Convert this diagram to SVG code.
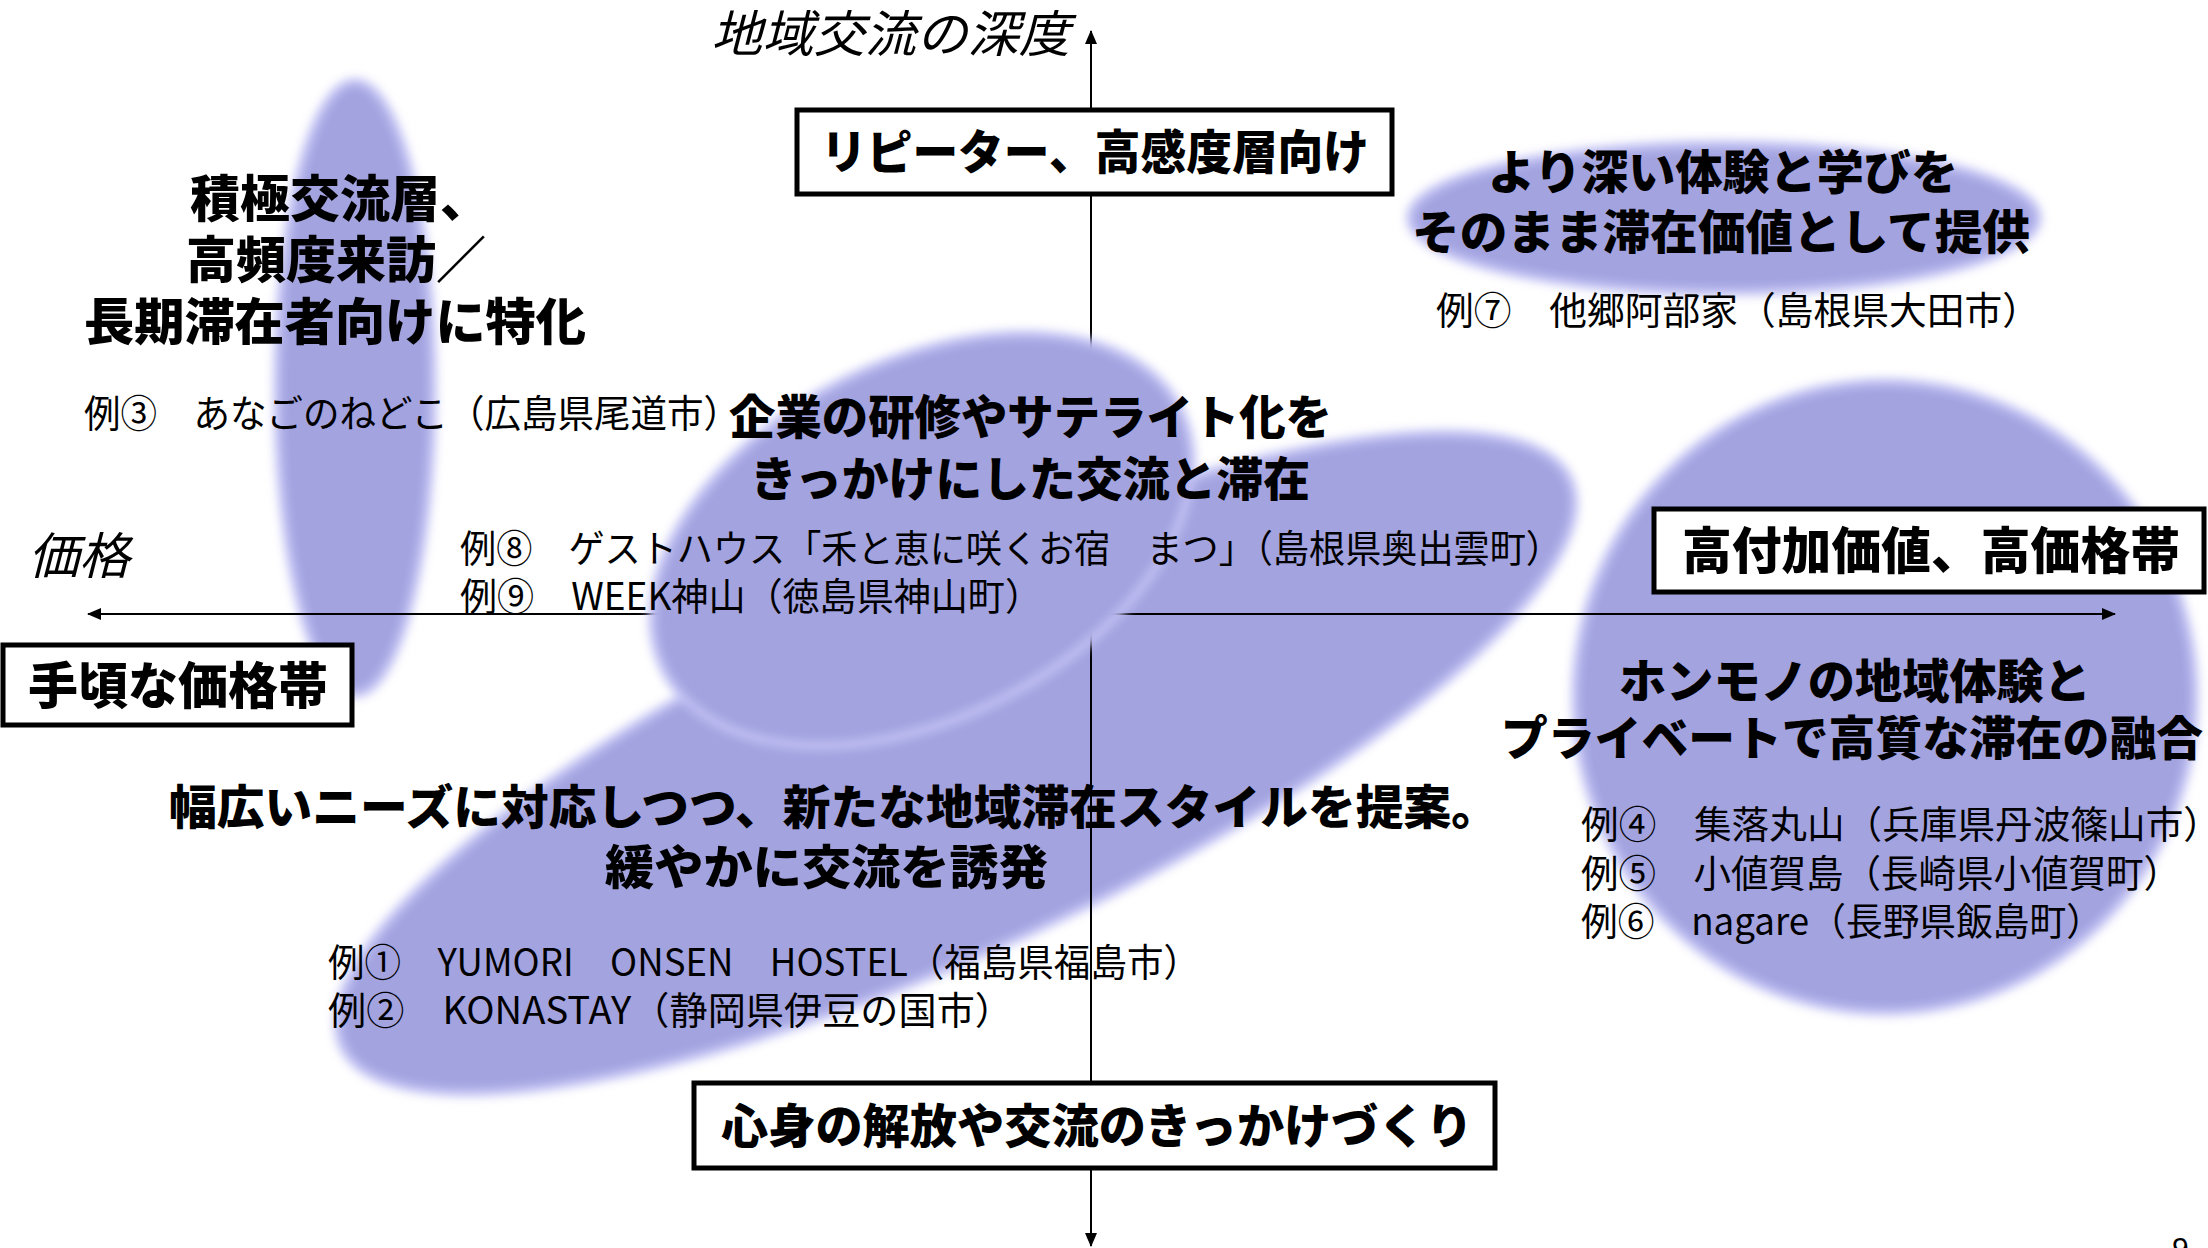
<svg xmlns="http://www.w3.org/2000/svg" width="2208" height="1248" viewBox="0 0 2208 1248">
<defs>
<filter id="soft" x="-20%" y="-20%" width="140%" height="140%"><feGaussianBlur stdDeviation="5"/></filter>
<marker id="ah" viewBox="0 0 14 12" refX="13" refY="6" markerWidth="14" markerHeight="12" markerUnits="userSpaceOnUse" orient="auto"><path d="M0,0 L14,6 L0,12 z" fill="#000"/></marker>
<style>
.blob{fill:#A3A3E0;stroke:#C2C2F4;stroke-width:8;filter:url(#soft)}
.ax{stroke:#000;stroke-width:2;fill:none}
.box{fill:#fff;stroke:#000;stroke-width:5}
.b{font-family:"Noto Sans CJK JP","Noto Sans CJK SC",sans-serif;font-weight:900;fill:#000}
.r{font-family:"Noto Sans CJK JP","Noto Sans CJK SC",sans-serif;font-weight:400;fill:#000;font-size:38px}
.i{font-family:"Noto Sans CJK JP","Noto Sans CJK SC",sans-serif;font-style:italic;font-weight:400;fill:#000;font-size:50px}
</style>
</defs>
<rect width="2208" height="1248" fill="#fff"/>
<g id="blobs-back">
<ellipse id="blob-left" class="blob" cx="355" cy="388" rx="78" ry="306"/>
<ellipse id="blob-diag" class="blob" cx="956" cy="763" rx="676" ry="185" transform="rotate(-24.8 956 763)"/>
<ellipse id="blob-right" class="blob" cx="1885" cy="697" rx="310" ry="315"/>
<ellipse id="blob-top" class="blob" cx="1724" cy="218" rx="314" ry="74"/>
</g>
<g id="connectors">
<line class="ax" x1="1091" y1="1246" x2="1091" y2="31" marker-end="url(#ah)"/>
<line class="ax" x1="1091" y1="40" x2="1091" y2="1246" marker-end="url(#ah)"/>
<line class="ax" x1="1091" y1="614" x2="88" y2="614" marker-end="url(#ah)"/>
<line class="ax" x1="1091" y1="614" x2="2115" y2="614" marker-end="url(#ah)"/>
</g>
<g id="blob-mid-g">
<ellipse id="blob-mid" class="blob" cx="922" cy="540" rx="289" ry="178" transform="rotate(-27 922 540)"/>
</g>
<g id="axis-y-label"><text class="i" x="711" y="52" textLength="359" lengthAdjust="spacingAndGlyphs">地域交流の深度</text></g>
<g id="axis-x-label"><text class="i" x="28" y="574" textLength="102" lengthAdjust="spacingAndGlyphs">価格</text></g>
<g id="box-top"><rect class="box" x="797" y="110" width="595" height="84"/><text class="b" font-size="47" x="821" y="169" textLength="548" lengthAdjust="spacingAndGlyphs">リピーター、高感度層向け</text></g>
<g id="box-left"><rect class="box" x="3" y="645" width="349" height="80"/><text class="b" font-size="50" x="28" y="704" textLength="300" lengthAdjust="spacingAndGlyphs">手頃な価格帯</text></g>
<g id="box-right"><rect class="box" x="1654" y="509" width="550" height="83"/><text class="b" font-size="50" x="1682" y="569" textLength="498" lengthAdjust="spacingAndGlyphs">高付加価値、高価格帯</text></g>
<g id="box-bottom"><rect class="box" x="694" y="1083" width="801" height="85"/><text class="b" font-size="47" x="721" y="1143" textLength="752" lengthAdjust="spacingAndGlyphs">心身の解放や交流のきっかけづくり</text></g>
<g id="node-upper-left">
<text class="b" font-size="50" x="190" y="217" textLength="300" lengthAdjust="spacingAndGlyphs">積極交流層、</text>
<text class="b" font-size="50" x="186" y="278" textLength="300" lengthAdjust="spacingAndGlyphs">高頻度来訪／</text>
<text class="b" font-size="50" x="84" y="340" textLength="502" lengthAdjust="spacingAndGlyphs">長期滞在者向けに特化</text>
<text class="r" x="84" y="427" textLength="656" lengthAdjust="spacingAndGlyphs">例③　あなごのねどこ（広島県尾道市）</text>
</g>
<g id="node-upper-right">
<text class="b" font-size="47" x="1488" y="189" textLength="470" lengthAdjust="spacingAndGlyphs">より深い体験と学びを</text>
<text class="b" font-size="47" x="1412" y="249" textLength="618" lengthAdjust="spacingAndGlyphs">そのまま滞在価値として提供</text>
<text class="r" x="1436" y="324" textLength="604" lengthAdjust="spacingAndGlyphs">例⑦　他郷阿部家（島根県大田市）</text>
</g>
<g id="node-center">
<text class="b" font-size="47" x="729" y="434" textLength="603" lengthAdjust="spacingAndGlyphs">企業の研修やサテライト化を</text>
<text class="b" font-size="47" x="750" y="496" textLength="560" lengthAdjust="spacingAndGlyphs">きっかけにした交流と滞在</text>
<text class="r" x="460" y="562" textLength="1102" lengthAdjust="spacingAndGlyphs">例⑧　ゲストハウス「禾と恵に咲くお宿　まつ」（島根県奥出雲町）</text>
<text class="r" x="460" y="610" textLength="582" lengthAdjust="spacingAndGlyphs">例⑨　WEEK神山（徳島県神山町）</text>
</g>
<g id="node-right">
<text class="b" font-size="47" x="1619" y="698" textLength="472" lengthAdjust="spacingAndGlyphs">ホンモノの地域体験と</text>
<text class="b" font-size="47" x="1501" y="755" textLength="702" lengthAdjust="spacingAndGlyphs">プライベートで高質な滞在の融合</text>
<text class="r" x="1581" y="838" textLength="640" lengthAdjust="spacingAndGlyphs">例④　集落丸山（兵庫県丹波篠山市）</text>
<text class="r" x="1581" y="887" textLength="600" lengthAdjust="spacingAndGlyphs">例⑤　小値賀島（長崎県小値賀町）</text>
<text class="r" x="1581" y="935" textLength="522" lengthAdjust="spacingAndGlyphs">例⑥　nagare（長野県飯島町）</text>
</g>
<g id="node-lower">
<text class="b" font-size="47" x="169" y="824" textLength="1330" lengthAdjust="spacingAndGlyphs">幅広いニーズに対応しつつ、新たな地域滞在スタイルを提案。</text>
<text class="b" font-size="47" x="605" y="884" textLength="443" lengthAdjust="spacingAndGlyphs">緩やかに交流を誘発</text>
<text class="r" x="328" y="976" textLength="872" lengthAdjust="spacingAndGlyphs">例①　YUMORI　ONSEN　HOSTEL（福島県福島市）</text>
<text class="r" x="328" y="1024" textLength="685" lengthAdjust="spacingAndGlyphs">例②　KONASTAY（静岡県伊豆の国市）</text>
</g>
<g id="page-number"><text x="2172" y="1258" font-family="Liberation Sans, sans-serif" font-size="30" fill="#000">9</text></g>
</svg>
